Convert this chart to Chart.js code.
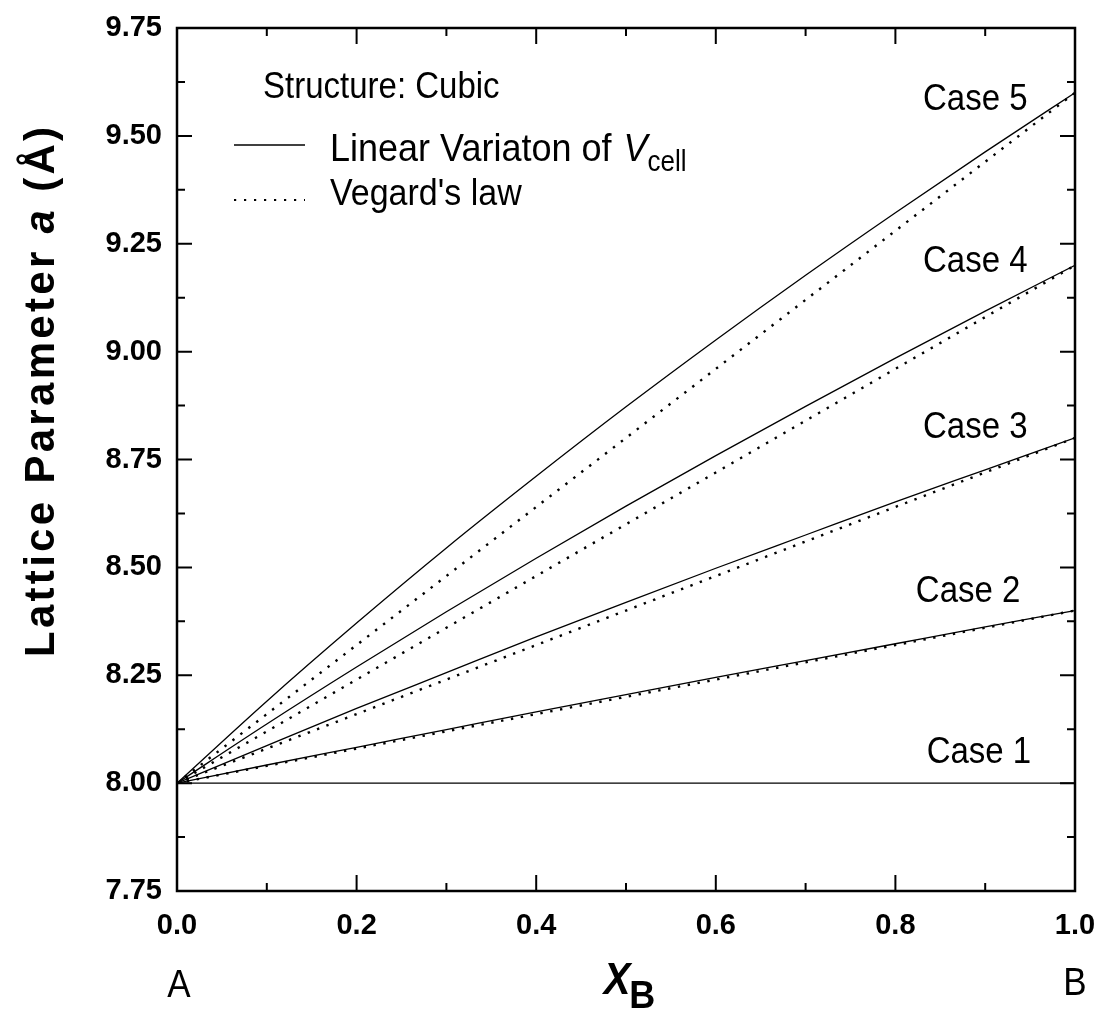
<!DOCTYPE html>
<html><head><meta charset="utf-8">
<script src="https://cdn.jsdelivr.net/npm/chart.js@4.4.1/dist/chart.umd.min.js"></script>
<style>html,body{margin:0;padding:0;background:#fff}#wrap{width:1100px;height:1012px;position:relative}</style>
</head><body><div id="wrap"><canvas id="c" width="1100" height="1012"></canvas></div>
<script>
// ---- data ----
const xB = [0, 0.1, 0.2, 0.3, 0.4, 0.5, 0.6, 0.7, 0.8, 0.9, 1.0];
// Linear variation of V_cell (solid)
const cell1 = [8.000, 8.000, 8.000, 8.000, 8.000, 8.000, 8.000, 8.000, 8.000, 8.000, 8.000];
const cell2 = [8.000, 8.042, 8.083, 8.124, 8.165, 8.205, 8.245, 8.284, 8.323, 8.362, 8.400];
const cell3 = [8.000, 8.087, 8.173, 8.256, 8.339, 8.419, 8.498, 8.575, 8.652, 8.726, 8.800];
const cell4 = [8.000, 8.137, 8.269, 8.397, 8.521, 8.642, 8.759, 8.873, 8.985, 9.094, 9.200];
const cell5 = [8.000, 8.190, 8.371, 8.545, 8.711, 8.872, 9.027, 9.177, 9.322, 9.463, 9.600];
// Vegard's law (dotted)
const veg2 = [8.00, 8.04, 8.08, 8.12, 8.16, 8.20, 8.24, 8.28, 8.32, 8.36, 8.40];
const veg3 = [8.00, 8.08, 8.16, 8.24, 8.32, 8.40, 8.48, 8.56, 8.64, 8.72, 8.80];
const veg4 = [8.00, 8.12, 8.24, 8.36, 8.48, 8.60, 8.72, 8.84, 8.96, 9.08, 9.20];
const veg5 = [8.00, 8.16, 8.32, 8.48, 8.64, 8.80, 8.96, 9.12, 9.28, 9.44, 9.60];
const caseLabels = ['Case 1', 'Case 2', 'Case 3', 'Case 4', 'Case 5'];
const xTickLabels = ['0.0', '0.2', '0.4', '0.6', '0.8', '1.0'];
const yTickLabels = ['7.75', '8.00', '8.25', '8.50', '8.75', '9.00', '9.25', '9.50', '9.75'];

const FONT = '"Liberation Sans", Arial, Helvetica, sans-serif';
const pts = arr => xB.map((x, i) => ({x: x, y: arr[i]}));

const solid = (arr) => ({data: pts(arr), borderColor: '#000', borderWidth: 1.3, pointRadius: 0, fill: false, cubicInterpolationMode: 'monotone'});
const dotted = (arr) => ({data: pts(arr), borderColor: '#000', borderWidth: 2.4, borderDash: [2.4, 7.6], pointRadius: 0, fill: false, cubicInterpolationMode: 'monotone'});

// annotation anchors (data space) for case labels: [x center, y baseline]
const caseLabelAnchor = [[0.893, 8.047], [0.881, 8.420], [0.889, 8.800], [0.889, 9.185], [0.889, 9.560]];

const STRETCH = 1.1;
function txt(ctx, s, x, y, font, align) {
  ctx.save();
  ctx.font = font;
  ctx.textAlign = align || 'left';
  ctx.textBaseline = 'alphabetic';
  ctx.translate(x, y);
  ctx.scale(1, STRETCH);
  ctx.fillText(s, 0, 0);
  const w = ctx.measureText(s).width;
  ctx.restore();
  return w;
}

const decor = {
  id: 'decor',
  afterDraw(chart) {
    const {ctx, chartArea: a, scales: {x, y}} = chart;
    ctx.save();
    ctx.strokeStyle = '#000';
    ctx.fillStyle = '#000';
    // inside ticks on all four sides
    ctx.lineWidth = 2;
    ctx.beginPath();
    for (let i = 0; i <= 10; i++) {
      const px = x.getPixelForValue(i / 10);
      const len = i % 2 === 0 ? 16 : 8;
      ctx.moveTo(px, a.bottom); ctx.lineTo(px, a.bottom - len);
      ctx.moveTo(px, a.top); ctx.lineTo(px, a.top + len);
    }
    for (let i = 0; i <= 16; i++) {
      const py = y.getPixelForValue(7.75 + i * 0.125);
      const len = i % 2 === 0 ? 15 : 8;
      ctx.moveTo(a.left, py); ctx.lineTo(a.left + len, py);
      ctx.moveTo(a.right, py); ctx.lineTo(a.right - len, py);
    }
    ctx.stroke();
    // frame
    ctx.lineWidth = 2.5;
    ctx.strokeRect(a.left, a.top, a.right - a.left, a.bottom - a.top);

    // case labels
    caseLabels.forEach((t, i) => {
      const [dx, dy] = caseLabelAnchor[i];
      txt(ctx, t, x.getPixelForValue(dx), y.getPixelForValue(dy), '33px ' + FONT, 'center');
    });

    // legend
    txt(ctx, 'Structure: Cubic', 263, 98, '33px ' + FONT);
    ctx.lineWidth = 1.5;
    ctx.setLineDash([]);
    ctx.beginPath(); ctx.moveTo(234, 145); ctx.lineTo(305, 145); ctx.stroke();
    ctx.lineWidth = 2.2;
    ctx.setLineDash([2.2, 7.8]);
    ctx.beginPath(); ctx.moveTo(234, 200); ctx.lineTo(305, 200); ctx.stroke();
    ctx.setLineDash([]);
    let cx = 330;
    cx += txt(ctx, 'Linear Variaton of ', cx, 161, '36px ' + FONT);
    cx += txt(ctx, 'V', cx + 2, 161, 'italic 36px ' + FONT) + 2;
    txt(ctx, 'cell', cx, 171, '26px ' + FONT);
    txt(ctx, "Vegard's law", 330, 205, '34px ' + FONT);

    // A / B end labels
    txt(ctx, 'A', x.getPixelForValue(0) + 2, 997, '35px ' + FONT, 'center');
    txt(ctx, 'B', x.getPixelForValue(1), 995, '35px ' + FONT, 'center');

    // x title X_B
    const fX = 'bold italic 40px ' + FONT, fB = 'bold 36px ' + FONT;
    ctx.font = fX; const wX = ctx.measureText('X').width;
    ctx.font = fB; const wB = ctx.measureText('B').width;
    const cx0 = (a.left + a.right) / 2 - (wX + wB) / 2 + 4;
    txt(ctx, 'X', cx0, 994, fX);
    txt(ctx, 'B', cx0 + wX - 1, 1008, fB);

    // y title (rotated, letter-spaced)
    const runs = [
      {t: 'Lattice Parameter ', f: 'bold 42px ' + FONT},
      {t: 'a', f: 'bold italic 42px ' + FONT},
      {t: ' (\u00C5)', f: 'bold 42px ' + FONT}
    ];
    const sp = 3.3;
    let total = 0; const chars = [];
    runs.forEach(r => { ctx.font = r.f; for (const ch of r.t) { const w = ctx.measureText(ch).width; chars.push({ch, f: r.f, w}); total += w + sp; } });
    total -= sp;
    ctx.translate(54, 392);
    ctx.rotate(-Math.PI / 2);
    ctx.textAlign = 'left';
    ctx.textBaseline = 'alphabetic';
    let px = -total / 2;
    chars.forEach(c => { ctx.font = c.f; ctx.fillText(c.ch, px, 0); px += c.w + sp; });
    ctx.restore();
  }
};

new Chart(document.getElementById('c'), {
  type: 'line',
  data: {
    datasets: [solid(cell1), solid(cell2), solid(cell3), solid(cell4), solid(cell5),
               dotted(veg2), dotted(veg3), dotted(veg4), dotted(veg5)]
  },
  options: {
    responsive: false,
    animation: false,
    events: [],
    layout: {padding: {left: 0, right: 25, top: 28, bottom: 0}},
    plugins: {legend: {display: false}, tooltip: {enabled: false}},
    scales: {
      x: {
        type: 'linear', min: 0, max: 1,
        grid: {display: false, drawTicks: false},
        border: {display: false},
        afterFit: s => { s.height = 121; s.paddingLeft = 0; s.paddingRight = 0; },
        afterBuildTicks: s => { s.ticks = xTickLabels.map(v => ({value: parseFloat(v)})); },
        ticks: {
          color: '#000', padding: 18, maxRotation: 0, autoSkip: false,
          font: {family: FONT, size: 29, weight: 'bold'},
          callback: (v, i) => xTickLabels[i]
        }
      },
      y: {
        type: 'linear', min: 7.75, max: 9.75,
        grid: {display: false, drawTicks: false},
        border: {display: false},
        afterFit: s => { s.width = 177; s.paddingTop = 0; s.paddingBottom = 0; },
        afterBuildTicks: s => { s.ticks = yTickLabels.map(v => ({value: parseFloat(v)})); },
        ticks: {
          color: '#000', padding: 15, autoSkip: false,
          font: {family: FONT, size: 29, weight: 'bold'},
          callback: (v, i) => yTickLabels[i]
        }
      }
    }
  },
  plugins: [decor]
});
</script>
</body></html>
